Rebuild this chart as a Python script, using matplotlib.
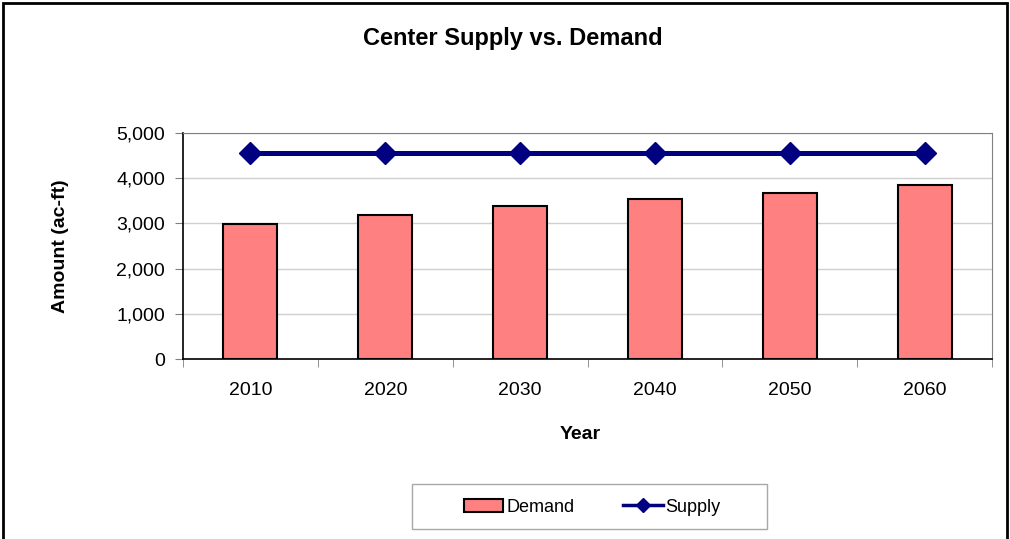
import matplotlib.pyplot as plt
import numpy as np
from matplotlib.patches import Rectangle
from matplotlib.lines import Line2D
from matplotlib.ticker import FuncFormatter

plt.rcParams['font.family'] = ['Liberation Sans', 'DejaVu Sans']

# data
years = ['2010', '2020', '2030', '2040', '2050', '2060']
demand = [2980, 3190, 3380, 3530, 3680, 3855]
supply = [4560, 4560, 4560, 4560, 4560, 4560]

fig = plt.figure(figsize=(10.10, 5.39), dpi=100)
ax = fig.add_axes([0.1812, 0.3334, 0.8010, 0.4204])

x = np.arange(len(years))
ax.bar(x, demand, width=0.4, color='#FF8080', edgecolor='black', linewidth=1.5, zorder=3)
ax.plot(x, supply, color='#000080', linewidth=3.6, marker='D', markersize=11, zorder=4)

ax.set_xlim(-0.5, len(years) - 0.5)
ax.set_ylim(0, 5000)
ax.set_yticks(np.arange(0, 5001, 1000))
ax.yaxis.set_major_formatter(FuncFormatter(lambda v, p: f'{int(v):,}'))
ax.grid(axis='y', color='#d0d0d0', linewidth=1, zorder=0)

# category ticks sit between the bars, labels at bar centres
ax.set_xticks(x)
ax.set_xticklabels(years)
ax.tick_params(axis='x', which='major', length=0, pad=16, labelsize=14)
ax.set_xticks(np.arange(-0.5, len(years)), minor=True)
ax.tick_params(axis='x', which='minor', length=6, color='#808080', direction='out')
ax.tick_params(axis='y', length=6, color='#808080', labelsize=14, pad=7)

for side in ['top', 'right']:
    ax.spines[side].set_color('#808080')
for side in ['left', 'bottom']:
    ax.spines[side].set_color('black')
    ax.spines[side].set_linewidth(1.2)

ax.set_xlabel('Year', fontsize=14, fontweight='bold')
ax.xaxis.set_label_coords(0.491, -0.295)
ax.set_ylabel('Amount (ac-ft)', fontsize=14, fontweight='bold', labelpad=34)

fig.text(0.508, 1 - 38 / 539, 'Center Supply vs. Demand', ha='center', va='center',
         fontsize=17, fontweight='bold')

# outer chart border
fig.patches.append(Rectangle((3 / 1010, -0.05), 1004 / 1010, 1.0 - 3 / 539 + 0.05,
                             transform=fig.transFigure, fill=False,
                             edgecolor='black', linewidth=2))

# legend frame drawn separately so its padding can match
fig.patches.append(Rectangle((412 / 1010, 1 - 529 / 539), 355 / 1010, 45 / 539,
                             transform=fig.transFigure, fill=False,
                             edgecolor='#a8a8a8', linewidth=1))

handles = [Rectangle((0, 0), 1, 1, facecolor='#FF8080', edgecolor='black', linewidth=1.5),
           Line2D([0], [0], color='#000080', linewidth=2.5, marker='D', markersize=7)]
leg = fig.legend(handles, ['Demand', 'Supply'], loc='center',
                 bbox_to_anchor=(592 / 1010, 1 - 507 / 539), ncol=2, fontsize=13,
                 frameon=False, handlelength=2.2, handleheight=0.7,
                 handletextpad=0.15, columnspacing=2.7)

fig.savefig('out.png', dpi=100)
